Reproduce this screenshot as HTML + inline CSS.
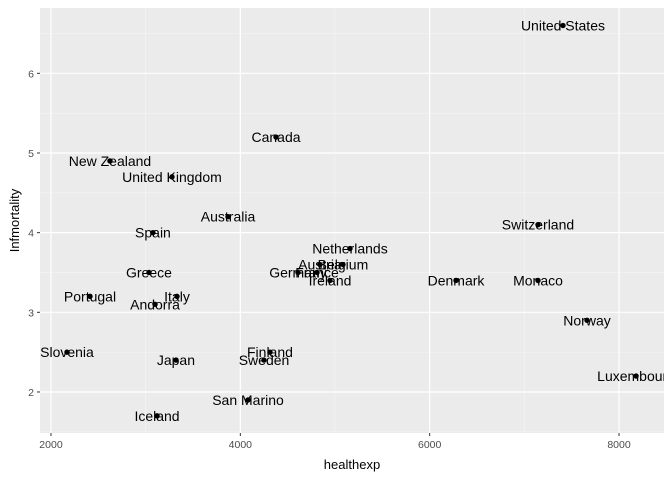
<!DOCTYPE html>
<html><head><meta charset="utf-8"><style>
body{margin:0;background:#fff;font-family:"Liberation Sans",sans-serif}
</style></head><body>
<svg id="c" width="672" height="480" xmlns="http://www.w3.org/2000/svg"></svg>
<script>
const countries=["United States","Canada","New Zealand","United Kingdom","Australia","Spain","Greece","Portugal","Italy","Andorra","Slovenia","Japan","Iceland","San Marino","Finland","Sweden","Germany","France","Austria","Belgium","Ireland","Netherlands","Denmark","Switzerland","Monaco","Norway","Luxembourg"];
const healthexp=[7408,4377,2623,3278,3870,3077,3035,2412,3331,3099,2169,3320,3120,4081,4313,4250,4609,4810,4841,5084,4947,5158,6278,7144,7144,7662,8180];
const infmortality=[6.6,5.2,4.9,4.7,4.2,4.0,3.5,3.2,3.2,3.1,2.5,2.4,1.7,1.9,2.5,2.4,3.5,3.5,3.6,3.6,3.4,3.8,3.4,4.1,3.4,2.9,2.2];
const xTicks=[2000,4000,6000,8000];
const yTicks=[2,3,4,5,6];
const L=40,R=664,T=8,B=433;
const xMin=1884,xMax=8475,yMin=1.485,yMax=6.82;
const sx=v=>L+(v-xMin)/(xMax-xMin)*(R-L);
const sy=v=>B-(v-yMin)/(yMax-yMin)*(B-T);
const svg=document.getElementById('c');
const NS="http://www.w3.org/2000/svg";
function mk(t,a,p){const e=document.createElementNS(NS,t);for(const k in a)e.setAttribute(k,a[k]);(p||svg).appendChild(e);return e;}
const bg=mk('rect',{x:L,y:T,width:R-L,height:B-T,fill:'#ebebeb'});


for(let i=0;i<xTicks.length+1;i++){const v=xTicks[0]-1000+i*2000;if(v>xMin&&v<xMax){const l=mk('line',{x1:sx(v),x2:sx(v),y1:T,y2:B,stroke:'#f5f5f5','stroke-width':0.6});}}
for(let i=0;i<yTicks.length+1;i++){const v=yTicks[0]-0.5+i;if(v>yMin&&v<yMax){const l=mk('line',{x1:L,x2:R,y1:sy(v),y2:sy(v),stroke:'#f5f5f5','stroke-width':0.6});}}
xTicks.forEach(v=>{const x=sx(v);
const g=mk('line',{x1:x,x2:x,y1:T,y2:B,stroke:'#fff','stroke-width':1.2});
const t=mk('line',{x1:x,x2:x,y1:B,y2:B+3,stroke:'#333'});
const tx=mk('text',{x:x,y:B+15,'text-anchor':'middle','font-size':10.5,fill:'#4d4d4d'});tx.textContent=v;});
yTicks.forEach(v=>{const y=sy(v);
const g=mk('line',{x1:L,x2:R,y1:y,y2:y,stroke:'#fff','stroke-width':1.2});
const t=mk('line',{x1:L-3,x2:L,y1:y,y2:y,stroke:'#333'});
const tx=mk('text',{x:L-6,y:y+4,'text-anchor':'end','font-size':10.5,fill:'#4d4d4d'});tx.textContent=v;});
const clip=mk('clipPath',{id:'cp'});mk('rect',{x:L,y:T,width:R-L,height:B-T},clip);
const g=mk('g',{'clip-path':'url(#cp)'});
countries.forEach((c,i)=>{const x=sx(healthexp[i]),y=sy(infmortality[i]);
const p=mk('circle',{cx:x,cy:y,r:2.7,fill:'#000'},g);
const t=mk('text',{x:x,y:y+5,'text-anchor':'middle','font-size':14,fill:'#000'},g);t.textContent=c;});
const xt=mk('text',{x:(L+R)/2,y:469,'text-anchor':'middle','font-size':13,fill:'#000'});xt.textContent='healthexp';
const yt=mk('text',{x:19,y:(T+B)/2,'text-anchor':'middle','font-size':13,fill:'#000',transform:`rotate(-90 19 ${(T+B)/2})`});yt.textContent='Infmortality';
</script>
</body></html>
